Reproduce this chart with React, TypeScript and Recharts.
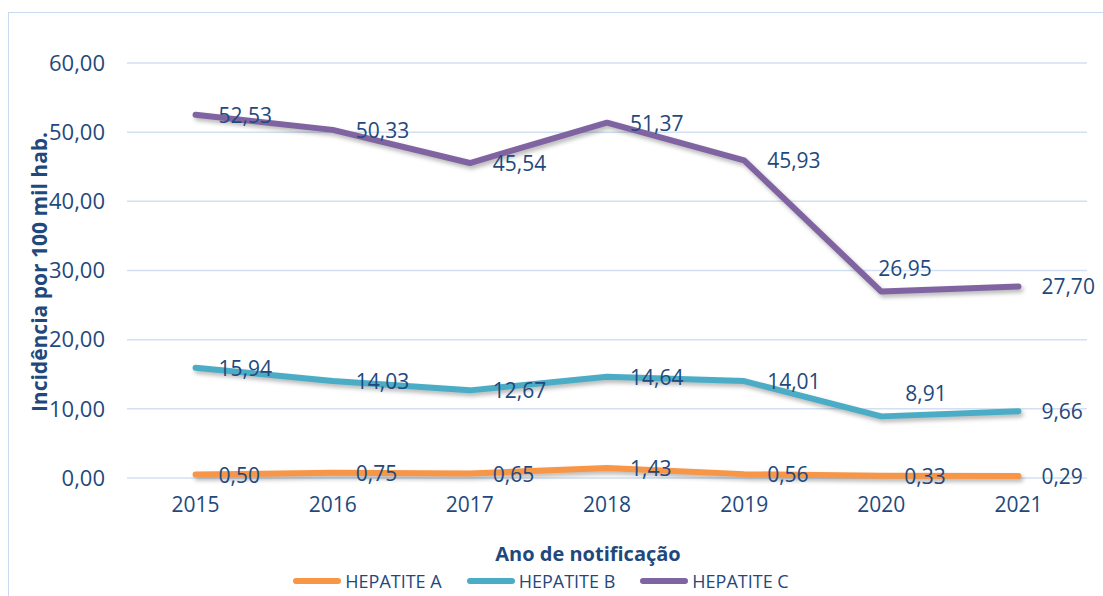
import React from "react";
import {
  LineChart,
  Line,
  XAxis,
  YAxis,
  CartesianGrid,
  Legend,
  LabelList,
} from "recharts";

const years = [2015, 2016, 2017, 2018, 2019, 2020, 2021];
const hepatiteA = [0.5, 0.75, 0.65, 1.43, 0.56, 0.33, 0.29];
const hepatiteB = [15.94, 14.03, 12.67, 14.64, 14.01, 8.91, 9.66];
const hepatiteC = [52.53, 50.33, 45.54, 51.37, 45.93, 26.95, 27.7];
const yTicks = [0, 10, 20, 30, 40, 50, 60];
const bandEdges = [2014.5, 2015.5, 2016.5, 2017.5, 2018.5, 2019.5, 2020.5, 2021.5];

const SERIES = [
  { key: "a", name: "HEPATITE A", color: "#F79646" },
  { key: "b", name: "HEPATITE B", color: "#4BACC6" },
  { key: "c", name: "HEPATITE C", color: "#8064A2" },
];

const data = years.map((y, i) => ({
  year: y,
  a: hepatiteA[i],
  b: hepatiteB[i],
  c: hepatiteC[i],
}));

const TEXT = "#1F497D";
const FONT = "'Open Sans', sans-serif";
const fmt = (v: number) => v.toFixed(2).replace(".", ",");

// most labels sit right of the point; the 2020 ones for B and C sit above
const makeLabel = (series: string) => (props: any) => {
  const { x, y, value, index } = props;
  let tx = x + 23;
  let ty = y;
  if (index === 5 && series === "c") {
    tx = x - 3;
    ty = y - 24;
  } else if (index === 5 && series === "b") {
    tx = x + 24;
    ty = y - 23;
  }
  return (
    <text
      x={tx}
      y={ty}
      fill={TEXT}
      fontSize={21}
      fontFamily={FONT}
      textAnchor="start"
      dominantBaseline="central"
    >
      {fmt(value)}
    </text>
  );
};

const LegendContent = () => (
  <div
    style={{
      display: "flex",
      justifyContent: "center",
      paddingLeft: 20,
      fontFamily: FONT,
      fontSize: 18,
      color: TEXT,
      height: 30,
      alignItems: "center",
    }}
  >
    {SERIES.map((s) => (
      <div key={s.key} style={{ display: "flex", alignItems: "center", marginRight: 25 }}>
        <svg width={48} height={8} style={{ marginRight: 4 }}>
          <line x1={3} y1={4} x2={45} y2={4} stroke={s.color} strokeWidth={6} strokeLinecap="round" />
        </svg>
        <span>{s.name}</span>
      </div>
    ))}
  </div>
);

export default function App() {
  return (
    <div
      style={{
        position: "absolute",
        left: 0,
        top: 0,
        width: 1103,
        height: 596,
        overflow: "hidden",
        background: "#fff",
      }}
    >
      <style>{`.recharts-line-curve { filter: drop-shadow(2px 3px 2px rgba(0,0,0,0.28)); }`}</style>
      <div
        style={{
          position: "absolute",
          left: 8,
          top: 12,
          width: 1200,
          height: 700,
          border: "1.5px solid #C9DAEF",
        }}
      />
      <div style={{ position: "absolute", left: 0, top: 0 }}>
        <LineChart
          width={1103}
          height={596}
          data={data}
          margin={{ top: 63, right: 16, bottom: 0, left: 0 }}
        >
          <CartesianGrid vertical={false} stroke="#D3E0F1" strokeWidth={1.5} />
          <XAxis
            xAxisId="edges"
            dataKey="year"
            type="number"
            domain={[2014.5, 2021.5]}
            ticks={bandEdges}
            allowDataOverflow
            tick={false}
            tickSize={7}
            height={0}
            axisLine={{ stroke: "#C3D4EB", strokeWidth: 1.5 }}
            tickLine={{ stroke: "#C3D4EB", strokeWidth: 1.5 }}
          />
          <XAxis
            xAxisId="main"
            dataKey="year"
            type="number"
            domain={[2014.5, 2021.5]}
            ticks={years}
            allowDataOverflow
            axisLine={false}
            tickLine={false}
            tickMargin={13}
            height={88}
            tick={{ fill: TEXT, fontSize: 21, fontFamily: FONT }}
            label={(props: any) => {
              const vb = props.viewBox;
              return (
                <text
                  x={vb.x + vb.width / 2 - 19}
                  y={vb.y + 75}
                  fill={TEXT}
                  fontSize={20}
                  fontWeight="bold"
                  fontFamily={FONT}
                  textAnchor="middle"
                  dominantBaseline="central"
                >
                  Ano de notificação
                </text>
              );
            }}
          />
          <YAxis
            domain={[0, 60]}
            ticks={yTicks}
            width={127}
            axisLine={false}
            tickLine={false}
            tickMargin={16}
            tickFormatter={fmt}
            tick={{ fill: TEXT, fontSize: 22, fontFamily: FONT }}
            label={() => (
              <text
                x={39}
                y={272}
                transform="rotate(-90 39 272)"
                fill={TEXT}
                fontSize={21}
                fontWeight="bold"
                fontFamily={FONT}
                textAnchor="middle"
                dominantBaseline="central"
              >
                Incidência por 100 mil hab.
              </text>
            )}
          />
          <Legend verticalAlign="bottom" content={<LegendContent />} />
          {SERIES.map((s) => (
            <Line
              key={s.key}
              xAxisId="main"
              dataKey={s.key}
              name={s.name}
              stroke={s.color}
              strokeWidth={6}
              strokeLinecap="round"
              strokeLinejoin="round"
              dot={false}
              activeDot={false}
              isAnimationActive={false}
            >
              <LabelList dataKey={s.key} content={makeLabel(s.key)} />
            </Line>
          ))}
        </LineChart>
      </div>
    </div>
  );
}
